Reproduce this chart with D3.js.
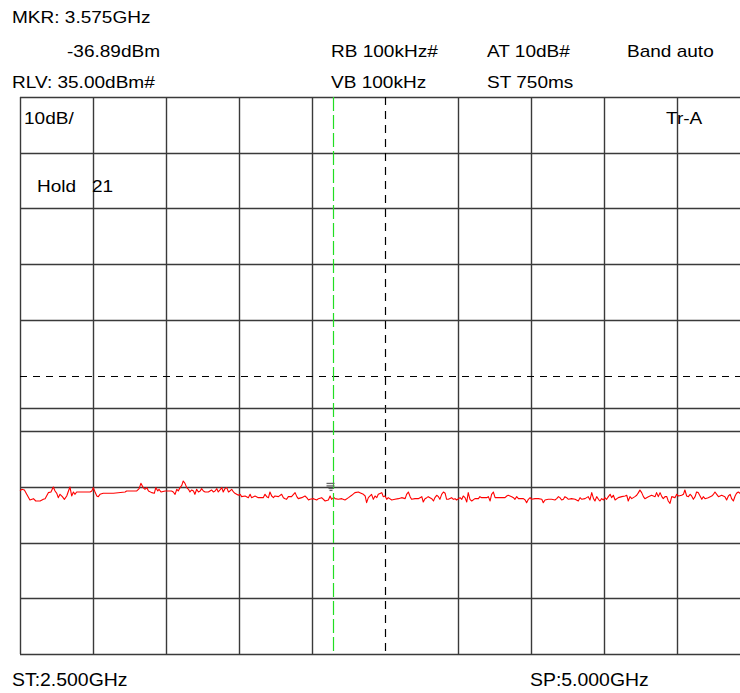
<!DOCTYPE html>
<html>
<head>
<meta charset="utf-8">
<script src="https://cdn.jsdelivr.net/npm/d3@7"></script>
<style>
  html, body { margin: 0; padding: 0; background: #fff; }
  svg { display: block; }
  text { font-family: "Liberation Sans", Arial, Helvetica, sans-serif; fill: #000; }
</style>
</head>
<body>
<div id="chart"></div>
<script>
// ---- data ----
const startMHz = 2500, stopMHz = 5000;
const refLevelDbm = 35, dbPerDiv = 10, divisions = 10;
const markerFreqMHz = 3575, markerLevelDbm = -36.89;
const centerFreqMHz = 3750;
const displayLineDbm = -20.8;

const freqTicksMHz = d3.range(startMHz, stopMHz + 1, 250);
const levelTicksDbm = d3.range(refLevelDbm, refLevelDbm - dbPerDiv * divisions - 1, -dbPerDiv);

const freqMHz = [
 2500,2506,2515,2523,2534,2546,2554,2569,2580,2586,2597,2606,2614,2620,2626,2631,2637,2645,2652,2660,
 2666,2671,2677,2683,2688,2694,2740,2746,2751,2757,2763,2768,2774,2785,2820,2860,2865,2900,2908,2914,
 2922,2928,2934,2940,2951,2960,2965,2972,2976,2983,2997,3019,3025,3031,3037,3042,3048,3054,3059,3065,
 3071,3077,3082,3088,3094,3099,3105,3111,3117,3122,3128,3134,3145,3156,3162,3168,3174,3179,3185,3191,
 3196,3202,3208,3214,3219,3225,3231,3236,3242,3248,3254,3259,3271,3282,3288,3293,3305,3316,3333,3339,
 3345,3351,3356,3362,3368,3373,3385,3396,3402,3408,3413,3419,3430,3442,3448,3453,3465,3476,3482,3488,
 3493,3505,3516,3522,3533,3545,3556,3562,3567,3575,3579,3590,3602,3613,3625,3636,3647,3659,3664,3676,
 3682,3687,3693,3704,3710,3716,3722,3727,3739,3744,3750,3756,3761,3773,3784,3796,3807,3819,3824,3830,
 3836,3841,3853,3864,3876,3881,3887,3893,3898,3910,3916,3921,3927,3933,3938,3944,3950,3956,3961,3967,
 3978,3984,3990,3995,4007,4013,4018,4024,4030,4035,4041,4047,4058,4070,4075,4081,4098,4104,4110,4115,
 4121,4127,4161,4167,4172,4184,4190,4195,4201,4207,4224,4230,4235,4241,4247,4252,4264,4275,4287,4292,
 4298,4309,4321,4332,4338,4344,4349,4355,4361,4366,4372,4378,4389,4401,4412,4418,4424,4435,4446,4452,
 4458,4464,4469,4475,4481,4486,4492,4498,4503,4509,4515,4521,4526,4532,4538,4549,4561,4572,4578,4583,
 4589,4595,4606,4612,4618,4623,4629,4635,4640,4652,4663,4675,4680,4686,4692,4698,4703,4709,4715,4720,
 4726,4732,4743,4749,4755,4766,4772,4777,4783,4789,4795,4800,4806,4812,4817,4823,4829,4835,4840,4846,
 4857,4869,4875,4880,4886,4892,4903,4914,4920,4926,4932,4937,4943,4949,4954,4960,4975,4990,5000
];
const levelDbm = [
 -35.73,-35.43,-35.55,-36.33,-37.35,-37.11,-37.53,-37.53,-37.23,-37.11,-36.03,-35.91,-35.01,-35.73,-36.15,-36.93,-36.33,-36.75,-37.23,-36.63,
 -35.73,-35.01,-36.63,-35.91,-36.33,-35.91,-35.91,-35.73,-35.13,-35.91,-36.63,-36.75,-36.33,-36.15,-36.15,-35.91,-35.73,-35.73,-35.31,-34.36,
 -35.13,-35.43,-35.13,-35.73,-36.03,-36.15,-35.13,-35.73,-35.43,-35.91,-35.73,-35.73,-35.91,-36.33,-35.43,-35.73,-35.13,-34.72,-33.94,-34.36,
 -35.13,-35.43,-35.91,-35.55,-35.73,-36.33,-35.43,-35.91,-35.73,-35.31,-35.73,-35.91,-35.91,-35.55,-35.91,-35.73,-35.31,-35.91,-35.55,-35.13,
 -35.91,-35.31,-35.13,-35.91,-35.73,-35.43,-35.91,-36.15,-36.33,-36.51,-36.33,-36.75,-36.63,-36.93,-36.33,-36.93,-36.63,-36.93,-36.93,-36.33,
 -36.75,-36.93,-35.91,-36.63,-36.93,-36.63,-36.75,-36.33,-36.93,-37.11,-37.23,-36.75,-36.75,-36.03,-36.75,-37.11,-36.93,-36.63,-36.93,-37.35,
 -37.23,-37.11,-37.35,-37.11,-36.93,-37.53,-37.35,-36.63,-37.23,-36.89,-37.11,-37.23,-37.11,-37.35,-36.93,-36.51,-36.03,-35.91,-36.03,-36.33,
 -36.63,-37.83,-36.93,-36.33,-37.23,-36.63,-36.93,-36.33,-36.03,-36.75,-36.63,-37.23,-36.93,-37.35,-37.23,-37.11,-36.93,-37.11,-36.33,-35.91,
 -36.75,-37.23,-37.11,-37.11,-36.75,-37.71,-37.11,-36.93,-36.75,-37.11,-37.53,-36.93,-36.51,-36.75,-37.23,-36.33,-35.91,-36.15,-37.23,-37.23,
 -36.93,-37.23,-37.11,-37.35,-36.93,-37.23,-36.63,-36.93,-37.71,-36.03,-37.23,-37.53,-37.11,-37.11,-36.75,-36.93,-36.93,-36.75,-37.53,-36.33,
 -35.91,-36.93,-36.93,-36.63,-36.51,-36.75,-36.93,-37.23,-36.75,-37.11,-37.11,-37.35,-37.83,-37.23,-36.93,-37.23,-37.11,-37.11,-37.23,-37.83,
 -37.35,-37.23,-37.23,-37.35,-37.11,-36.75,-36.93,-37.35,-37.23,-36.75,-36.93,-37.23,-37.11,-37.23,-37.53,-36.93,-37.23,-37.11,-36.75,-37.35,
 -36.03,-37.11,-37.53,-36.75,-37.23,-37.53,-37.11,-37.35,-36.93,-37.23,-36.75,-36.33,-36.93,-36.51,-37.35,-36.93,-36.75,-36.63,-36.51,-37.53,
 -36.75,-37.11,-36.75,-36.51,-36.03,-35.55,-36.03,-36.75,-37.11,-36.75,-36.51,-36.75,-36.03,-36.75,-36.03,-36.75,-37.11,-36.75,-36.75,-37.53,
 -37.95,-36.75,-36.93,-36.33,-36.63,-36.51,-36.33,-35.55,-36.63,-36.75,-36.33,-36.63,-37.23,-36.75,-35.91,-36.03,-36.63,-37.23,-36.75,-37.11,
 -36.93,-36.63,-36.33,-35.91,-36.33,-36.75,-36.51,-36.75,-37.35,-36.63,-36.33,-37.11,-37.53,-36.63,-36.15,-35.91,-36.5,-36.9,-36.6
];

const headerLabels = [
  { t: "MKR: 3.575GHz", x: 12, y: 23 },
  { t: "-36.89dBm", x: 67, y: 57 },
  { t: "RB 100kHz#", x: 331, y: 57 },
  { t: "AT 10dB#", x: 487, y: 57 },
  { t: "Band auto", x: 627, y: 57 },
  { t: "RLV: 35.00dBm#", x: 12, y: 88 },
  { t: "VB 100kHz", x: 331, y: 88 },
  { t: "ST 750ms", x: 487, y: 88 },
  { t: "10dB/", x: 24, y: 124 },
  { t: "Tr-A", x: 666, y: 124 },
  { t: "Hold", x: 37, y: 192 },
  { t: "21", x: 92, y: 192 }
];
const footerLabels = [
  { t: "ST:2.500GHz", x: 12, y: 686 },
  { t: "SP:5.000GHz", x: 530, y: 686 }
];

// ---- drawing ----
const W = 740, H = 693;
const svg = d3.select("#chart").append("svg").attr("width", W).attr("height", H);
svg.append("rect").attr("width", W).attr("height", H).attr("fill", "#fff");

const x = d3.scaleLinear().domain([startMHz, stopMHz]).range([20, 750]);
const y = d3.scaleLinear().domain([refLevelDbm, refLevelDbm - dbPerDiv * divisions]).range([97, 654]);

const grid = svg.append("g");
grid.selectAll("line.v").data(freqTicksMHz.filter(f => f !== centerFreqMHz)).enter().append("line")
  .attr("x1", d => Math.round(x(d)) + 0.5).attr("x2", d => Math.round(x(d)) + 0.5)
  .attr("y1", y.range()[0]).attr("y2", y.range()[1])
  .attr("stroke", "#3a3a3a").attr("stroke-width", 1.4);
grid.selectAll("line.h").data(levelTicksDbm.filter(v => v !== refLevelDbm - dbPerDiv * 5)).enter().append("line")
  .attr("y1", d => Math.round(y(d)) + 0.5).attr("y2", d => Math.round(y(d)) + 0.5)
  .attr("x1", x.range()[0]).attr("x2", x.range()[1])
  .attr("stroke", "#3a3a3a").attr("stroke-width", d => d === refLevelDbm ? 1.3 : 1.4);
// centre lines (dashed)
grid.append("line")
  .attr("x1", Math.round(x(centerFreqMHz)) + 0.5).attr("x2", Math.round(x(centerFreqMHz)) + 0.5)
  .attr("y1", y.range()[0]).attr("y2", y.range()[1])
  .attr("stroke", "#000").attr("stroke-width", 1.2).attr("stroke-dasharray", "8,6");
grid.append("line")
  .attr("y1", Math.round(y(refLevelDbm - dbPerDiv * 5)) + 0.5).attr("y2", Math.round(y(refLevelDbm - dbPerDiv * 5)) + 0.5)
  .attr("x1", x.range()[0]).attr("x2", x.range()[1])
  .attr("stroke", "#000").attr("stroke-width", 1.2).attr("stroke-dasharray", "7,6");
// display line
grid.append("line")
  .attr("y1", Math.round(y(displayLineDbm)) + 0.5).attr("y2", Math.round(y(displayLineDbm)) + 0.5)
  .attr("x1", x.range()[0]).attr("x2", x.range()[1])
  .attr("stroke", "#3a3a3a").attr("stroke-width", 1.4);

// trace
const trace = freqMHz.map((f, i) => [f, levelDbm[i]]);
svg.append("path").datum(trace)
  .attr("fill", "none").attr("stroke", "#ff0000").attr("stroke-width", 1.1)
  .attr("stroke-linejoin", "round")
  .attr("d", d3.line().x(d => x(d[0])).y(d => y(d[1])));

// marker line
const mx = Math.round(x(markerFreqMHz)) - 0.5;
svg.append("line").attr("x1", mx).attr("x2", mx)
  .attr("y1", y.range()[0]).attr("y2", y.range()[1])
  .attr("stroke", "#22dd22").attr("stroke-width", 1.2).attr("stroke-dasharray", "14,4");

// marker glyph
const my = y(markerLevelDbm);
const glyph = [[-7, 1, -14], [-7, 1, -11.5], [-5, 0, -9], [-4, -1, -7]];
svg.append("g").selectAll("line").data(glyph).enter().append("line")
  .attr("x1", d => mx + d[0]).attr("x2", d => mx + d[1])
  .attr("y1", d => my + d[2]).attr("y2", d => my + d[2])
  .attr("stroke", "#666").attr("stroke-width", 1.3);

// labels
function addLabels(list, size, sx) {
  svg.append("g").selectAll("text").data(list).enter().append("text")
    .attr("transform", d => `translate(${d.x},${d.y}) scale(${sx},1)`)
    .attr("font-size", size)
    .text(d => d.t);
}
addLabels(headerLabels, 17, 1.12);
addLabels(footerLabels, 18, 1.08);
</script>
</body>
</html>
